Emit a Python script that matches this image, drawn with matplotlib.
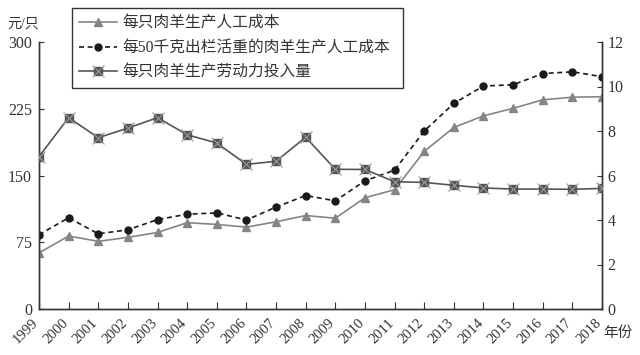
import numpy as np
import matplotlib
matplotlib.use('Agg')
import matplotlib.pyplot as plt
from matplotlib.transforms import ScaledTranslation

plt.rcParams['font.family'] = ['Liberation Serif', 'Noto Sans CJK SC']

years = list(range(1999, 2019))
# 每只肉羊生产人工成本 (元/只)
cost_per_head = [63, 82, 76, 80.5, 86, 97, 95, 92, 98, 105,
                 102, 125, 134, 177, 204, 217, 225.5, 235, 238, 238.5]
# 每50千克出栏活重的肉羊生产人工成本 (元)
cost_per_50kg = [83.5, 102.5, 84.5, 89, 100.5, 106.5, 108, 100, 114.5, 127.5,
                 121.5, 144, 156, 200, 231, 250.5, 252, 264.5, 266.5, 261]
# 每只肉羊生产劳动力投入量 (日)
labor_per_head = [6.85, 8.6, 7.7, 8.13, 8.6, 7.83, 7.46, 6.5, 6.64, 7.72,
                  6.28, 6.27, 5.72, 5.69, 5.56, 5.44, 5.39, 5.39, 5.38, 5.42]

left_ticks = [0, 75, 150, 225, 300]
right_ticks = [0, 2, 4, 6, 8, 10, 12]

fig = plt.figure(figsize=(6.4, 3.55), dpi=100)
ax = fig.add_axes([39/640, 1 - 309/355, (602-39)/640, (309-42)/355])
ax2 = ax.twinx()

x = np.arange(len(years))

l1, = ax.plot(x, cost_per_head, color='#858585', lw=1.2, marker='^', ms=5.5,
              mfc='#858585', mec='#858585', zorder=3)
l2, = ax.plot(x, cost_per_50kg, color='#1a1a1a', lw=1.2, ls=(0, (3, 2.2)),
              marker='o', ms=5, mfc='#1a1a1a', mec='#1a1a1a', zorder=3)
l3, = ax2.plot(x, labor_per_head, color='#555555', lw=1.2, marker='s', ms=6,
               mfc='#555555', mec='#555555', zorder=3)
l3x, = ax2.plot(x, labor_per_head, ls='none', marker='x', ms=9, mew=0.8,
                mec='#9a9a9a', zorder=4)

ax.set_xlim(0, len(years) - 1)
ax.set_ylim(0, 300)
ax2.set_ylim(0, 12)
ax.set_yticks(left_ticks)
ax2.set_yticks(right_ticks)
ax.set_xticks(x)

for a in (ax, ax2):
    a.spines['top'].set_visible(False)
    for s in a.spines.values():
        s.set_linewidth(1.0)
        s.set_color('#333333')
ax.tick_params(axis='y', direction='in', length=3.5, pad=5, labelsize=11.5, colors='#333333')
ax.tick_params(axis='x', direction='in', length=5, pad=4, labelsize=10.5, colors='#333333')
ax2.tick_params(axis='y', direction='in', length=3.5, pad=4, labelsize=11.5, colors='#333333')

ax.set_xticklabels([str(y) for y in years], rotation=45, ha='right',
                   va='top', rotation_mode='anchor')
shift = ScaledTranslation(-7/100, -2/100, fig.dpi_scale_trans)
for lab in ax.get_xticklabels():
    lab.set_transform(lab.get_transform() + shift)

fig.text(7/640, 1 - 24/355, '元/只', fontsize=10, va='center', ha='left', color='#333333')
fig.text(603/640, 1 - 333/355, '年份', fontsize=10.5, va='center', ha='left', color='#333333')

leg = fig.legend([l1, l2, (l3, l3x)],
                 ['每只肉羊生产人工成本', '每50千克出栏活重的肉羊生产人工成本', '每只肉羊生产劳动力投入量'],
                 loc='upper left', bbox_to_anchor=(72/640, 1 - 12/355, 331/640, 0.01),
                 mode='expand', fancybox=False, framealpha=1, edgecolor='#333333',
                 fontsize=11.3, handlelength=2.4, handletextpad=0.35, labelspacing=0.55,
                 borderpad=0.45, borderaxespad=0)
leg.get_frame().set_linewidth(1.0)
for t in leg.get_texts():
    t.set_color('#333333')

fig.savefig('out.png', dpi=100)
